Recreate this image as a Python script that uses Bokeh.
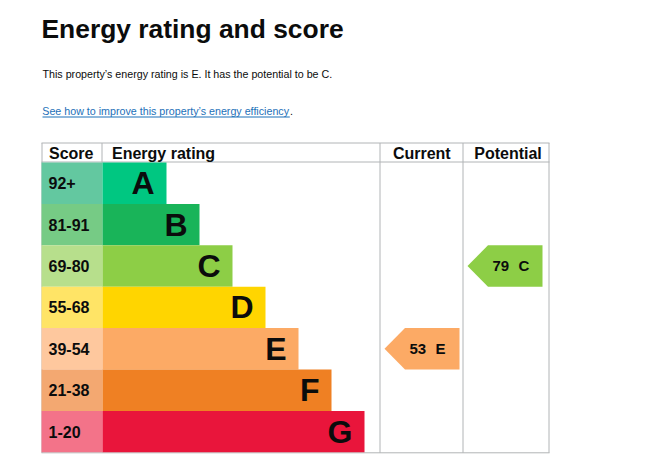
from bokeh.plotting import figure
from bokeh.models import Range1d
from bokeh.core.properties import value
from bokeh.embed import file_html
from bokeh.resources import INLINE

# ---------------- data ----------------
bands = ["A", "B", "C", "D", "E", "F", "G"]
score_ranges = ["92+", "81-91", "69-80", "55-68", "39-54", "21-38", "1-20"]
band_min = [92, 81, 69, 55, 39, 21, 1]
band_colors = ["#00c781", "#19b459", "#8dce46", "#ffd500", "#fcaa65", "#ef8023", "#e9153b"]
score_colors = ["#63c8a0", "#76cb85", "#b7df8c", "#ffe466", "#fec89e", "#f3a871", "#f37389"]
current_score = 53
potential_score = 79
title_text = "Energy rating and score"
summary_text = "This property\u2019s energy rating is E. It has the potential to be C."
link_text = "See how to improve this property\u2019s energy efficiency"
headers = ["Score", "Energy rating", "Current", "Potential"]

# ---------------- layout ----------------
W, H = 655, 457
FONT = value("Liberation Sans")
TXT = "#0b0c0c"
GRID = "#b1b4b6"
LINK = "#1d70b8"

table_left, score_right = 41, 102
col_cur_left, col_pot_left, table_right = 379.5, 462.5, 548.5
table_top, body_top, row_h = 142.5, 162.0, 41.4
body_bottom = body_top + row_h * len(bands)
bar_base, bar_step = 64, 33


def bl(b, size):
    # convert a desired alphabetic baseline into the glyph's anchor y
    return b - 0.35 * size


p = figure(width=W, height=H, output_backend="svg", toolbar_location=None,
           x_range=Range1d(0, W), y_range=Range1d(H, 0),
           x_axis_type=None, y_axis_type=None, min_border=0,
           outline_line_color=None, background_fill_color="white",
           border_fill_color="white")
p.xgrid.visible = False
p.ygrid.visible = False

n = len(bands)
tops = [body_top + i * row_h for i in range(n)]
bottoms = [t + row_h for t in tops]
centers = [t + row_h / 2 for t in tops]
bar_right = [score_right + bar_base + bar_step * i for i in range(n)]

# grid lines
p.segment(x0=[table_left + 0.5, col_cur_left, col_pot_left, table_right, score_right - 0.5],
          y0=[table_top] * 5,
          x1=[table_left + 0.5, col_cur_left, col_pot_left, table_right, score_right - 0.5],
          y1=[body_bottom + 0.5] * 4 + [body_top],
          line_color=GRID, line_width=1)
p.segment(x0=[table_left, table_left, table_left], y0=[table_top, body_top - 0.5, body_bottom + 0.5],
          x1=[table_right + 0.5] * 3, y1=[table_top, body_top - 0.5, body_bottom + 0.5],
          line_color=GRID, line_width=1)

# score cells and bars
p.quad(left=[table_left] * n, right=[score_right] * n, top=tops, bottom=bottoms,
       fill_color=score_colors, line_color=None)
p.quad(left=[score_right] * n, right=bar_right, top=tops, bottom=bottoms,
       fill_color=band_colors, line_color=None)

# score labels
p.text(x=[48] * n, y=[bl(c + 5.6, 16) for c in centers], text=score_ranges,
       text_font=FONT, text_font_style="bold", text_font_size="16px",
       text_color=TXT, text_align="left", text_baseline="alphabetic")
# band letters
p.text(x=[r - 12 for r in bar_right], y=[bl(c + 11.2, 32) for c in centers], text=bands,
       text_font=FONT, text_font_style="bold", text_font_size="32px",
       text_color=TXT, text_align="right", text_baseline="alphabetic")

# headers
p.text(x=[48.5, 111.5], y=[bl(158.5, 16)] * 2, text=headers[:2],
       text_font=FONT, text_font_style="bold", text_font_size="16px",
       text_color=TXT, text_align="left", text_baseline="alphabetic")
p.text(x=[421.3, 507.5], y=[bl(158.5, 16)] * 2, text=headers[2:],
       text_font=FONT, text_font_style="bold", text_font_size="16px",
       text_color=TXT, text_align="center", text_baseline="alphabetic")


# arrows
def band_index(score):
    for i, m in enumerate(band_min):
        if score >= m:
            return i
    return n - 1


arrow_xs, arrow_ys, arrow_cols = [], [], []
num_x, num_y, num_t, let_x, let_t = [], [], [], [], []
for score, col_left in [(current_score, col_cur_left), (potential_score, col_pot_left)]:
    i = band_index(score)
    tip = col_left + 4.5
    body = tip + 20.5
    end = tip + 75
    arrow_xs.append([tip, body, end, end, body])
    arrow_ys.append([centers[i], tops[i], tops[i], bottoms[i], bottoms[i]])
    arrow_cols.append(band_colors[i])
    num_x.append(tip + 25)
    let_x.append(tip + 51)
    num_y.append(bl(centers[i] + 5, 15))
    num_t.append(str(score))
    let_t.append(bands[i])
p.patches(xs=arrow_xs, ys=arrow_ys, fill_color=arrow_cols, line_color=None)
p.text(x=num_x, y=num_y, text=num_t, text_font=FONT, text_font_style="bold",
       text_font_size="15px", text_color=TXT, text_align="left", text_baseline="alphabetic")
p.text(x=let_x, y=num_y, text=let_t, text_font=FONT, text_font_style="bold",
       text_font_size="15px", text_color=TXT, text_align="left", text_baseline="alphabetic")

# title and texts
p.text(x=[41], y=[bl(38, 26.4)], text=[title_text], text_font=FONT, text_font_style="bold",
       text_font_size="26.4px", text_color=TXT, text_align="left", text_baseline="alphabetic")
p.text(x=[42], y=[bl(77.3, 10.7)], text=[summary_text], text_font=FONT,
       text_font_size="10.7px", text_color=TXT, text_align="left", text_baseline="alphabetic")
p.text(x=[41.8], y=[bl(114, 10.7)], text=[link_text], text_font=FONT,
       text_font_size="10.7px", text_color=LINK, text_align="left", text_baseline="alphabetic")
p.text(x=[289.5], y=[bl(114, 10.7)], text=["."], text_font=FONT,
       text_font_size="10.7px", text_color=TXT, text_align="left", text_baseline="alphabetic")
p.segment(x0=[42], y0=[116.5], x1=[289.3], y1=[116.5], line_color=LINK, line_width=1)

open("out.html", "w").write(file_html(p, INLINE))
